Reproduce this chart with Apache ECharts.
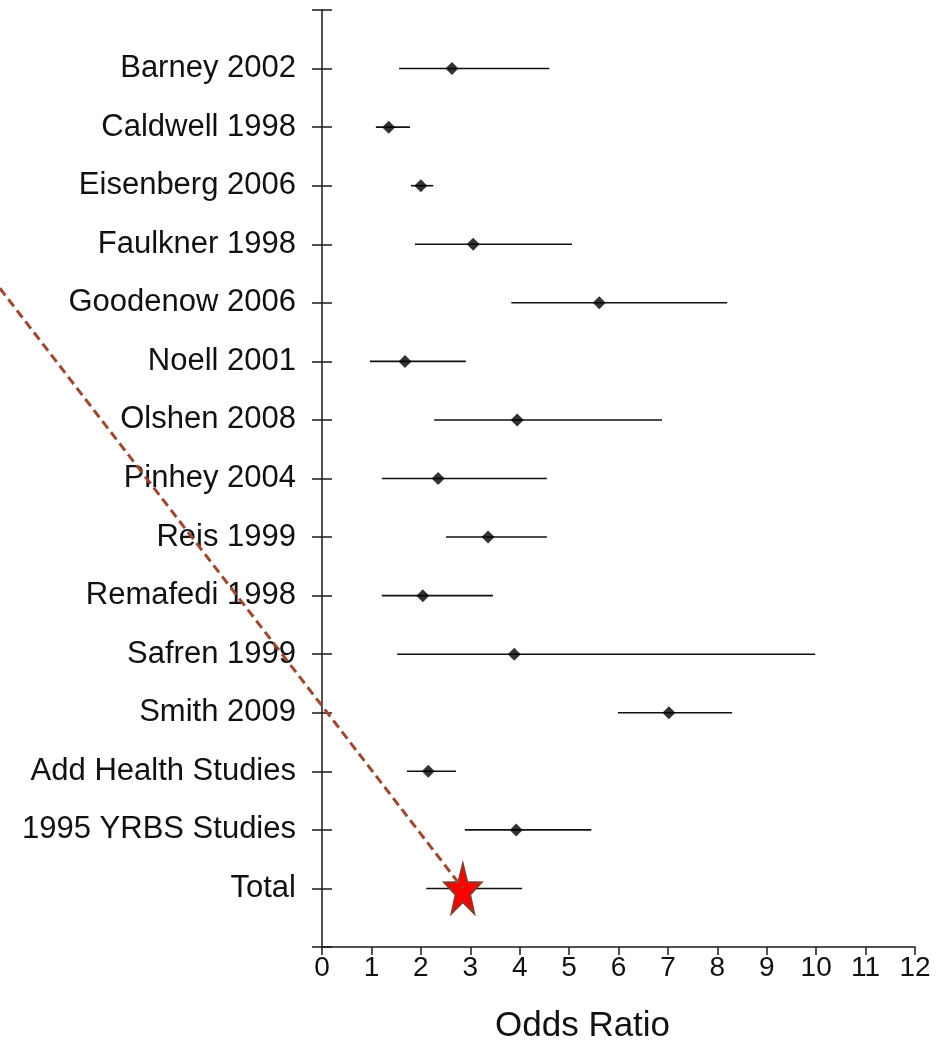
<!DOCTYPE html>
<html>
<head>
<meta charset="utf-8">
<script src="https://cdn.jsdelivr.net/npm/echarts@6/dist/echarts.min.js"></script>
<style>
html,body{margin:0;padding:0;background:#fff;}
#chart{width:942px;height:1042px;}
</style>
</head>
<body>
<div id="chart"></div>
<script>
const categories = ['Barney 2002','Caldwell 1998','Eisenberg 2006','Faulkner 1998','Goodenow 2006','Noell 2001','Olshen 2008','Pinhey 2004','Reis 1999','Remafedi 1998','Safren 1999','Smith 2009','Add Health Studies','1995 YRBS Studies','Total'];
const oddsRatio = [2.63,1.35,2.00,3.06,5.61,1.68,3.95,2.35,3.36,2.04,3.89,7.02,2.15,3.93,2.85];
const lowerCI   = [1.56,1.09,1.80,1.88,3.83,0.97,2.27,1.21,2.51,1.21,1.52,5.99,1.72,2.89,2.11];
const upperCI   = [4.60,1.78,2.25,5.06,8.20,2.91,6.88,4.55,4.55,3.46,9.98,8.30,2.71,5.45,4.05];
const xTicks = [0,1,2,3,4,5,6,7,8,9,10,11,12];
const pointerStart = [-6.52, 4.75]; // annotation arrow start, in data units (off the left of the plot)

const FONT = '"Liberation Sans", Arial, sans-serif';
const rows = categories.map((c, i) => i + 1);
const totalIdx = categories.length - 1;

const barData = categories.map((c, i) => [lowerCI[i], upperCI[i], rows[i]]);
const diamondData = categories.slice(0, totalIdx).map((c, i) => [oddsRatio[i], rows[i]]);
const totalPoint = [oddsRatio[totalIdx], rows[totalIdx]];

const starPath = 'path://M50 0 L61.76 33.82 L97.55 34.55 L69.02 56.18 L79.39 90.45 L50 70 L20.61 90.45 L30.98 56.18 L2.45 34.55 L38.24 33.82 Z';

const chart = echarts.init(document.getElementById('chart'), null, {renderer: 'canvas'});
const axisCol = '#1a1a1a';
const yBase = {
  type: 'value', min: 0, max: categories.length + 1, interval: 1, inverse: true,
  splitLine: {show: false}
};
chart.setOption({
  animation: false,
  backgroundColor: '#fff',
  title: {
    text: 'Odds Ratio', left: 490, top: 1004,
    textStyle: {fontFamily: FONT, fontSize: 35, fontWeight: 'normal', color: '#111'}
  },
  grid: {left: 322, right: 27, top: 10, bottom: 95, containLabel: false},
  xAxis: {
    type: 'value', min: xTicks[0], max: xTicks[xTicks.length - 1], interval: 1,
    splitLine: {show: false},
    axisLine: {show: true, onZero: false, lineStyle: {color: axisCol, width: 1.5}},
    axisTick: {show: true, length: 8, lineStyle: {color: axisCol, width: 1.5}},
    axisLabel: {fontFamily: FONT, fontSize: 28, color: '#111', margin: 7}
  },
  yAxis: [
    Object.assign({}, yBase, {
      position: 'left',
      axisLine: {show: true, onZero: false, lineStyle: {color: axisCol, width: 1.5}},
      axisTick: {show: true, length: 10, lineStyle: {color: axisCol, width: 1.5}},
      axisLabel: {
        fontFamily: FONT, fontSize: 31, color: '#111', margin: 26,
        formatter: v => categories[v - 1] || ''
      }
    }),
    Object.assign({}, yBase, {
      position: 'left',
      axisLine: {show: false, onZero: false},
      axisTick: {show: true, inside: true, length: 10, lineStyle: {color: axisCol, width: 1.5}},
      axisLabel: {show: false}
    })
  ],
  series: [
    {
      type: 'custom', xAxisIndex: 0, yAxisIndex: 1,
      data: barData,
      encode: {x: [0, 1], y: 2},
      renderItem: function (params, api) {
        const a = api.coord([api.value(0), api.value(2)]);
        const b = api.coord([api.value(1), api.value(2)]);
        return {type: 'line', shape: {x1: a[0], y1: a[1], x2: b[0], y2: b[1]},
                style: {stroke: '#111', lineWidth: 1.6}};
      },
      z: 2
    },
    {
      type: 'scatter', data: diamondData, symbol: 'diamond', symbolSize: [13, 13],
      itemStyle: {color: '#000'}, z: 3
    },
    {
      type: 'scatter', data: [totalPoint], symbol: starPath, symbolSize: [37, 50],
      itemStyle: {color: '#ff0000', borderColor: '#8b3a2a', borderWidth: 2, opacity: 1}, z: 4
    }
  ]
});

// dashed pointer annotation, endpoints converted from data units through the grid's scales
const p0 = chart.convertToPixel({gridIndex: 0}, pointerStart);
const p1 = chart.convertToPixel({gridIndex: 0}, totalPoint);
chart.setOption({
  graphic: [{
    type: 'line', z: 100,
    shape: {x1: p0[0], y1: p0[1], x2: p1[0], y2: p1[1]},
    style: {stroke: '#a0482f', lineWidth: 3, lineDash: [9, 5]}
  }]
});
</script>
</body>
</html>
